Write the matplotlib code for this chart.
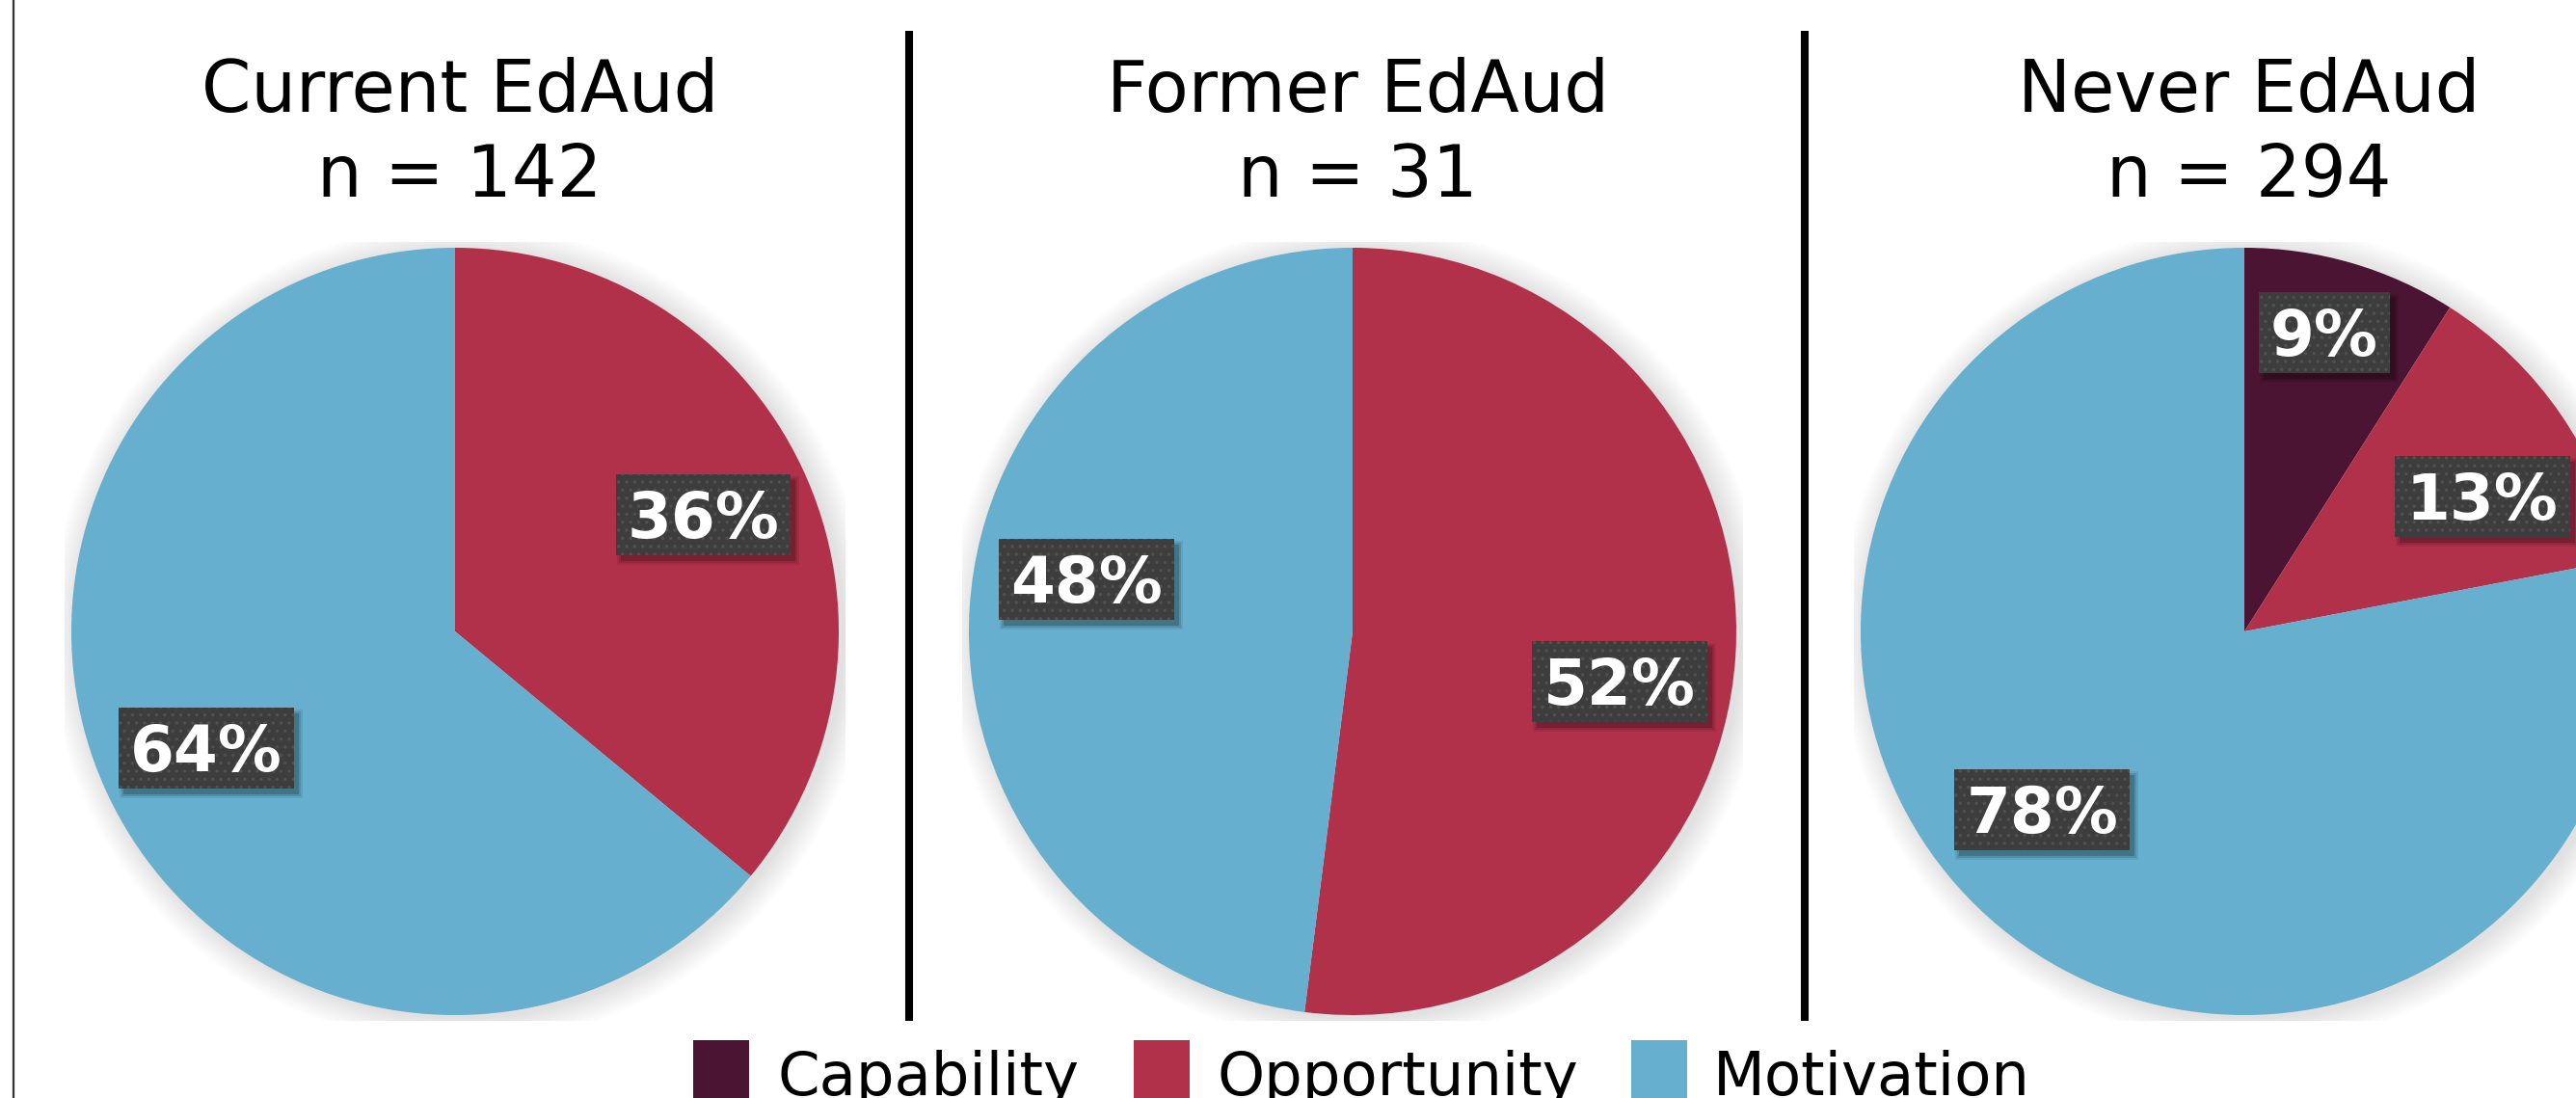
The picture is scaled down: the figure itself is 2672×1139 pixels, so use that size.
import numpy as np
import matplotlib
matplotlib.use("Agg")
import matplotlib.pyplot as plt
from matplotlib.patches import Circle, Rectangle

plt.rcParams['font.family'] = ['DejaVu Sans']
plt.rcParams['hatch.linewidth'] = 1.3

# ---------------- data ----------------
groups = ["Current EdAud", "Former EdAud", "Never EdAud"]
group_n = [142, 31, 294]
categories = ["Capability", "Opportunity", "Motivation"]
capability = [0, 0, 9]
opportunity = [36, 52, 13]
motivation = [64, 48, 78]

colors = ["#4B1432", "#B1314B", "#66AFCE"]

# ---------------- layout (pixels, y measured from bottom) ----------------
W, H = 2672, 1139
DPI = 100
pie_cx = [472, 1403, 2328]
pie_cy = H - 655
pie_r = 398
title_y1 = H - 116
title_y2 = H - 204
sep_x = [943, 1872]
sep_top, sep_bot = H - 32, H - 1059
# label placement: (distance factor of radius, angle shift in deg) per nonzero wedge
label_place = [
    [(0.715, 0.0), (0.716, -0.1)],
    [(0.708, -7.0), (0.706, -7.5)],
    [(0.806, 1.2), (0.713, -4.7), (0.703, -9.0)],
]
LABEL_FS = 47.5
BOX_H = 84
BOX_PAD = 12

fig = plt.figure(figsize=(W / DPI, H / DPI), dpi=DPI)
ax = fig.add_axes([0, 0, 1, 1])
ax.set_xlim(0, W)
ax.set_ylim(0, H)
renderer = fig.canvas.get_renderer()
cap_px = 0.729 * LABEL_FS * DPI / 72.0

for gi in range(3):
    vals = [capability[gi], opportunity[gi], motivation[gi]]
    nz = [i for i, v in enumerate(vals) if v > 0]
    cx, cy, r = pie_cx[gi], pie_cy, pie_r

    # soft shadow behind pie, clipped to a box around the pie
    clip = Rectangle((cx - r - 7, cy - r - 6), 2 * r + 14, 2 * r + 12,
                     transform=ax.transData, facecolor='none', edgecolor='none')
    ax.add_patch(clip)
    N = 30
    for k in range(N):
        c = Circle((cx + 5, cy - 3), r + 28 * (1 - k / N), facecolor='black',
                   edgecolor='none', alpha=0.0045, zorder=1)
        ax.add_patch(c)
        c.set_clip_path(clip)

    wedges, texts, autotexts = ax.pie(
        [vals[i] for i in nz], colors=[colors[i] for i in nz],
        startangle=90, counterclock=False, center=(cx, cy), radius=r,
        autopct=lambda p: f"{p:.0f}%", pctdistance=0.7, frame=True,
        wedgeprops=dict(linewidth=0, zorder=2), textprops=dict(zorder=7))

    for j, (w, at) in enumerate(zip(wedges, autotexts)):
        mid = np.deg2rad((w.theta1 + w.theta2) / 2 + label_place[gi][j][1])
        d = label_place[gi][j][0] * r
        x, y = cx + d * np.cos(mid), cy + d * np.sin(mid)
        at.set_position((x, y - cap_px / 2))
        at.set_ha('center')
        at.set_va('baseline')
        at.set_fontsize(LABEL_FS)
        at.set_fontweight('bold')
        at.set_color('white')
        tw = at.get_window_extent(renderer).width
        bw = tw + 2 * BOX_PAD
        # blurred drop shadow
        for s_off, s_alpha in [(0, 0.18), (2, 0.12), (4, 0.07)]:
            ax.add_patch(Rectangle((x - bw / 2 + 5 - s_off, y - BOX_H / 2 - 6 - s_off),
                                   bw + 2 * s_off, BOX_H + 2 * s_off,
                                   facecolor='black', edgecolor='none', alpha=s_alpha, zorder=4))
        ax.add_patch(Rectangle((x - bw / 2, y - BOX_H / 2), bw, BOX_H,
                               facecolor='#3D3D3D', edgecolor='#505050', lw=0,
                               hatch='..', zorder=5))

    ax.text(cx + 5, title_y1, groups[gi], ha='center', va='baseline', fontsize=53)
    ax.text(cx + 5, title_y2, f"n = {group_n[gi]}", ha='center', va='baseline', fontsize=53)

# separators
for x in sep_x:
    ax.plot([x, x], [sep_bot, sep_top], color='black', lw=5.8, solid_capstyle='butt', zorder=3)
# left border
ax.plot([14, 14], [0, H], color='#333333', lw=1.6, zorder=3)

# legend
leg_sq_x = [719, 1176, 1692]
leg_txt_x = [806, 1263, 1777]
for i in range(3):
    ax.add_patch(Rectangle((leg_sq_x[i], -10), 58, 70, facecolor=colors[i], edgecolor='none'))
    ax.text(leg_txt_x[i], 3, categories[i], ha='left', va='baseline', fontsize=45)

ax.set_xlim(0, W)
ax.set_ylim(0, H)
ax.set_axis_off()

fig.savefig("out.png", dpi=DPI)
